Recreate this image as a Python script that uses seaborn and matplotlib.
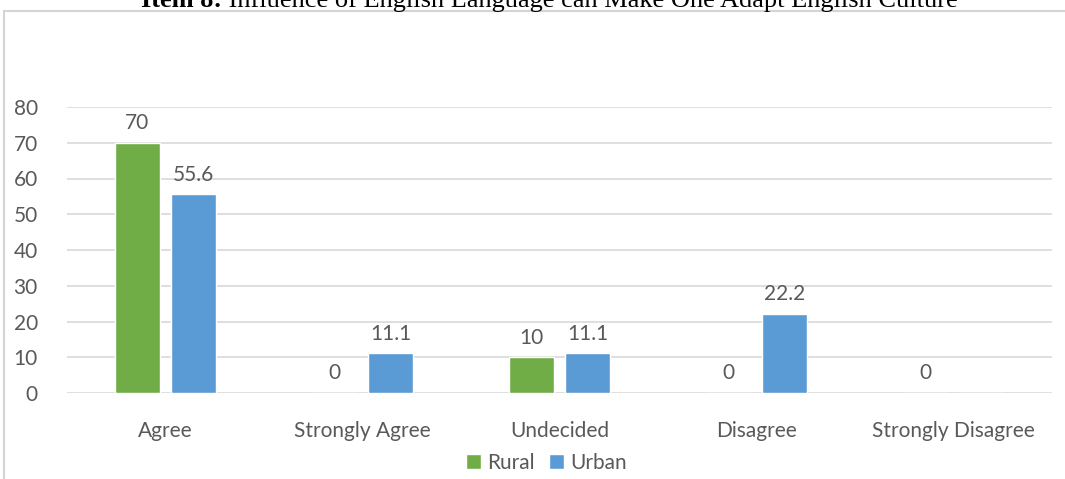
import numpy as np
import pandas as pd
import matplotlib
matplotlib.use("Agg")
import matplotlib.pyplot as plt
import seaborn as sns
from matplotlib.patches import Rectangle

categories = ["Agree", "Strongly Agree", "Undecided", "Disagree", "Strongly Disagree"]
rural = [70, 0, 10, 0, 0]
urban = [55.6, 11.1, 11.1, 22.2, np.nan]
series_names = ["Rural", "Urban"]
colors = ["#70ad47", "#5b9bd5"]
y_ticks = [0, 10, 20, 30, 40, 50, 60, 70, 80]

df = pd.DataFrame({
    "category": categories * 2,
    "group": [series_names[0]] * len(categories) + [series_names[1]] * len(categories),
    "value": rural + urban,
})
# missing values are drawn as empty bars so every slot keeps its position
df["plot_value"] = df["value"].fillna(0)

sns.set_theme(style="white")
plt.rcParams["font.family"] = ["Lato", "DejaVu Sans"]
text_color = "#595959"
fs = 15

fig = plt.figure(figsize=(10.65, 4.79), dpi=100)
ax = fig.add_axes([67 / 1065, 1 - 393 / 479, (1052 - 67) / 1065, (393 - 107) / 479])

sns.barplot(data=df, x="category", y="plot_value", hue="group", hue_order=series_names,
            palette=colors, width=0.57, gap=0.2, order=categories, ax=ax,
            saturation=1, legend=True, errorbar=None)

ax.set_ylim(0, 80)
ax.set_xlim(-0.5, len(categories) - 0.5)
ax.set_yticks(y_ticks)
ax.yaxis.grid(True, color="#d9d9d9", linewidth=1.2)
ax.set_axisbelow(True)
for s in ax.spines.values():
    s.set_visible(False)
ax.set_xlabel("")
ax.set_ylabel("")
ax.tick_params(axis="both", length=0, labelsize=fs, colors=text_color)
ax.tick_params(axis="y", pad=21)
ax.tick_params(axis="x", pad=20)

for cont, vals in zip(ax.containers, [rural, urban]):
    labels = ["" if pd.isna(v) else f"{v:g}" for v in vals]
    ax.bar_label(cont, labels=labels, padding=7, fontsize=fs, color=text_color)

handles, labs = ax.get_legend_handles_labels()
ax.legend(handles, labs, loc="center", bbox_to_anchor=(0.487, -0.245), ncol=2, frameon=False,
          fontsize=fs, labelcolor=text_color, handlelength=0.7, handleheight=0.7,
          handletextpad=0.3, columnspacing=0.7)

# chart frame
fig.patches.append(Rectangle((4 / 1065, -0.05), 1.1, 1 - 11 / 479 + 0.05,
                             transform=fig.transFigure, fill=False,
                             edgecolor="#d4d4d4", linewidth=1.5))

# title: bold lead-in followed by regular text
title_bold = "Item 8:"
title_rest = " Influence of English Language can Make One Adapt English Culture"
title_y = 1 - 7 / 479
tfs = 19
fig.canvas.draw()
renderer = fig.canvas.get_renderer()
probe_b = fig.text(0, 0, title_bold, fontsize=tfs, family="Liberation Serif", weight="bold")
probe_r = fig.text(0, 0, title_rest, fontsize=tfs, family="Liberation Serif")
wb = probe_b.get_window_extent(renderer).width
wr = probe_r.get_window_extent(renderer).width
probe_b.remove()
probe_r.remove()
x0 = (549 - (wb + wr) / 2) / 1065
fig.text(x0, title_y, title_bold, fontsize=tfs, family="Liberation Serif", weight="bold",
         va="baseline", ha="left", color="black")
fig.text(x0 + wb / 1065, title_y, title_rest, fontsize=tfs, family="Liberation Serif",
         va="baseline", ha="left", color="black")

fig.savefig("out.png", dpi=100, facecolor="white")
